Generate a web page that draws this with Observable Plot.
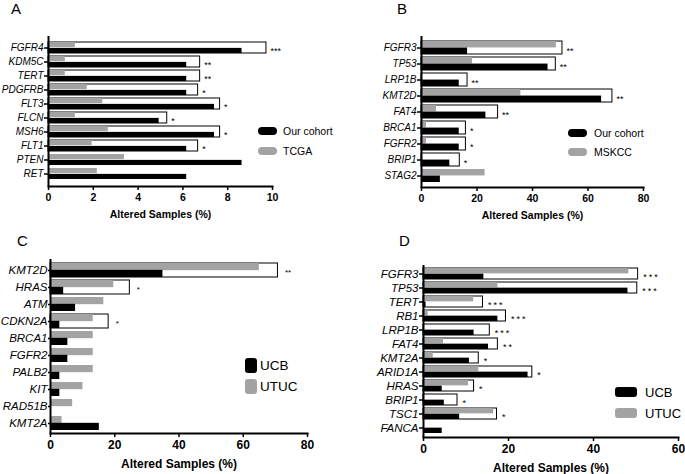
<!DOCTYPE html>
<html><head><meta charset="utf-8">
<script src="https://cdn.jsdelivr.net/npm/d3@7"></script>
<script src="https://cdn.jsdelivr.net/npm/@observablehq/plot@0.6"></script>
<style>
body{margin:0;background:#fff;font-family:"Liberation Sans",Arial,sans-serif;}
#root{position:relative;width:685px;height:474px;overflow:hidden;background:#fff;}
.panel{position:absolute;}
.letter{position:absolute;font-size:15px;line-height:15px;color:#000;}
.leg{position:absolute;display:flex;align-items:center;white-space:nowrap;height:16px;color:#000;}
.sw{display:inline-block;}
.pd g[aria-label="text"] text{letter-spacing:2px;}
</style></head>
<body><div id="root"></div>
<script>
// ---------- Panel A ----------
const aGenes = ["FGFR4","KDM5C","TERT","PDGFRB","FLT3","FLCN","MSH6","FLT1","PTEN","RET"];
const aOurs  = [8.64, 6.17, 6.17, 6.17, 7.41, 4.94, 7.41, 6.17, 8.64, 6.17];
const aTcga  = [1.2, 0.75, 0.75, 1.73, 2.42, 1.2, 2.67, 1.95, 3.39, 2.18];
const aBox   = [9.73, 6.77, 6.77, 6.68, 7.66, 5.3, 7.66, 6.68, null, null];
const aStars = ["***","**","**","*","*","*","*","*","",""];
const aTicks = [0, 2, 4, 6, 8, 10];
const aNames = ["Our cohort", "TCGA"];

// ---------- Panel B ----------
const bGenes = ["FGFR3","TP53","LRP1B","KMT2D","FAT4","BRCA1","FGFR2","BRIP1","STAG2"];
const bOurs  = [16.6, 45.6, 13.6, 64.9, 23.2, 13.6, 13.6, 10.2, 6.8];
const bMskcc = [48.6, 18.4, 0, 35.8, 5.4, 1.8, 1.8, 0, 22.9];
const bBox   = [50.8, 48.4, 16.6, 68.8, 27.6, 16.0, 16.0, 13.8, null];
const bStars = ["**","**","**","**","**","*","*","*",""];
const bTicks = [0, 20, 40, 60, 80];
const bNames = ["Our cohort", "MSKCC"];

// ---------- Panel C ----------
const cGenes = ["KMT2D","HRAS","ATM","CDKN2A","BRCA1","FGFR2","PALB2","KIT","RAD51B","KMT2A"];
const cUcb   = [35.0, 4.1, 7.8, 2.9, 5.4, 5.4, 2.9, 2.9, 0, 15.2];
const cUtuc  = [65.0, 19.7, 16.6, 13.3, 13.3, 13.3, 13.3, 10.1, 6.9, 3.6];
const cBox   = [70.8, 24.7, null, 18.1, null, null, null, null, null, null];
const cStars = ["**","*","","*","","","","","",""];
const cTicks = [0, 20, 40, 60, 80];
const cNames = ["UCB", "UTUC"];

// ---------- Panel D ----------
const dGenes = ["FGFR3","TP53","TERT","RB1","LRP1B","FAT4","KMT2A","ARID1A","HRAS","BRIP1","TSC1","FANCA"];
const dUcb   = [14.2, 48.1, 0.6, 17.5, 11.9, 15.3, 10.8, 24.6, 4.4, 4.9, 8.5, 4.4];
const dUtuc  = [48.3, 17.5, 11.8, 1.1, 0, 4.7, 2.3, 13.0, 10.6, 0, 16.5, 0];
const dBox   = [50.5, 50.3, 14.0, 19.4, 15.6, 17.5, 13.0, 25.6, 11.9, 8.0, 17.3, null];
const dStars = ["***","***","***","***","***","**","*","*","*","*","*",""];
const dTicks = [0, 20, 40, 60];
const dNames = ["UCB", "UTUC"];

const GRAY = "#a3a3a3";
const FONT = '"Liberation Sans", Arial, Helvetica, sans-serif';

const panels = [
  {letter:"A", genes:aGenes, ours:aOurs, other:aTcga, box:aBox, stars:aStars, ticks:aTicks, names:aNames,
   L:{cls:"pa", left:0, top:0, width:340, height:225, mt:36, mb:39, ml:48, mr:68, geneFont:10, tickFont:10.5,
      titleOff:31, yTick:4, starFont:9, starDx:4, starDy:3, letterX:11, letterY:1,
      lg:{x:258, y:[131,151], w:19, h:8, r:4, font:10.5, gap:6}}},
  {letter:"B", genes:bGenes, ours:bOurs, other:bMskcc, box:bBox, stars:bStars, ticks:bTicks, names:bNames,
   L:{cls:"pb", left:340, top:0, width:345, height:225, mt:36, mb:38, ml:81, mr:42, geneFont:10, tickFont:10.5,
      titleOff:31, yTick:4, starFont:9, starDx:4, starDy:3, letterX:397, letterY:1,
      lg:{x:568, y:[133,152], w:19, h:8, r:4, font:10.5, gap:7}}},
  {letter:"C", genes:cGenes, ours:cUcb, other:cUtuc, box:cBox, stars:cStars, ticks:cTicks, names:cNames,
   L:{cls:"pc", left:0, top:230, width:340, height:244, mt:29, mb:41, ml:50, mr:33, geneFont:11.5, tickFont:12,
      titleOff:34, yTick:2, starFont:8, starDx:7, starDy:2, letterX:17, letterY:233,
      lg:{x:245, y:[365,386], w:12, h:15, r:3, font:13.5, gap:3}}},
  {letter:"D", genes:dGenes, ours:dUcb, other:dUtuc, box:dBox, stars:dStars, ticks:dTicks, names:dNames,
   L:{cls:"pd", left:340, top:230, width:345, height:244, mt:35, mb:37, ml:83, mr:7, geneFont:11.5, tickFont:12,
      titleOff:34, yTick:4, starFont:9, starDx:5, starDy:3, letterX:399, letterY:233,
      lg:{x:615, y:[392,413], w:22, h:10, r:3, font:13, gap:8}}}
];

const root = document.getElementById("root");

for (const P of panels) {
  const L = P.L;
  const n = P.genes.length;
  const pad = 0.2;
  const step = (L.height - L.mt - L.mb) / (n + pad);
  const half = step * (1 - pad) / 2;
  const rows = P.genes.map((g, i) => ({gene: g, ours: P.ours[i], other: P.other[i], box: P.box[i], star: P.stars[i]}));
  const boxed = rows.filter(d => d.box != null);
  const svg = Plot.plot({
    width: L.width, height: L.height,
    marginTop: L.mt, marginBottom: L.mb, marginLeft: L.ml, marginRight: L.mr,
    className: L.cls,
    style: {fontFamily: FONT, background: "white", color: "black", overflow: "visible"},
    x: {domain: [0, P.ticks[P.ticks.length - 1]]},
    y: {domain: P.genes, padding: pad},
    marks: [
      Plot.barX(boxed, {x: "box", y: "gene", fill: "white", stroke: "black", strokeWidth: 1}),
      Plot.barX(rows, {x: "other", y: "gene", fill: GRAY, insetBottom: half}),
      Plot.barX(rows, {x: "ours", y: "gene", fill: "black", insetTop: half}),
      Plot.text(boxed, {x: "box", y: "gene", text: "star", dx: L.starDx, dy: L.starDy, textAnchor: "start", fontSize: L.starFont, fill: "black"}),
      Plot.ruleX([0], {strokeWidth: 2}),
      Plot.frame({anchor: "bottom", strokeWidth: 2}),
      Plot.axisY({tickSize: L.yTick, tickPadding: 1, fontSize: L.geneFont, fontStyle: "italic", strokeWidth: 1.5, label: null}),
      Plot.axisX({ticks: P.ticks, tickSize: 4, tickPadding: 3, fontSize: L.tickFont, fontWeight: "bold", strokeWidth: 1.5,
                  label: "Altered Samples (%)", labelAnchor: "center", labelArrow: "none", labelOffset: L.titleOff})
    ]
  });
  const wrap = document.createElement("div");
  wrap.className = "panel";
  wrap.style.left = L.left + "px";
  wrap.style.top = L.top + "px";
  wrap.appendChild(svg);
  root.appendChild(wrap);

  const letter = document.createElement("div");
  letter.className = "letter";
  letter.textContent = P.letter;
  letter.style.left = L.letterX + "px";
  letter.style.top = L.letterY + "px";
  root.appendChild(letter);

  const colors = ["black", GRAY];
  P.names.forEach((name, i) => {
    const row = document.createElement("div");
    row.className = "leg";
    row.style.left = L.lg.x + "px";
    row.style.top = (L.lg.y[i] - 8) + "px";
    row.style.fontSize = L.lg.font + "px";
    const sw = document.createElement("span");
    sw.className = "sw";
    sw.style.width = L.lg.w + "px";
    sw.style.height = L.lg.h + "px";
    sw.style.borderRadius = L.lg.r + "px";
    sw.style.background = colors[i];
    sw.style.marginRight = L.lg.gap + "px";
    const tx = document.createElement("span");
    tx.textContent = name;
    row.appendChild(sw);
    row.appendChild(tx);
    root.appendChild(row);
  });
}
</script>
</body></html>
